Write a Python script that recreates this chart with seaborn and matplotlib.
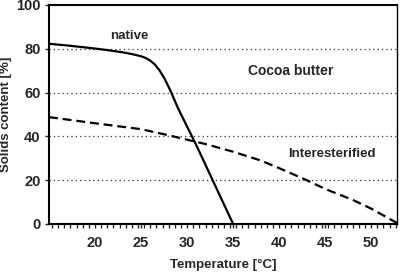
import matplotlib
matplotlib.use("Agg")
import matplotlib.pyplot as plt
from matplotlib.ticker import MultipleLocator
import seaborn as sns
import pandas as pd

native_temp = [15, 17, 19, 21, 23, 24, 25, 25.5, 26, 26.5, 27, 27.6, 28.2, 29, 30, 31, 32, 33, 34, 35]
native_solids = [82.3, 81.5, 80.6, 79.6, 78.4, 77.6, 76.6, 75.8, 74.6, 72.8, 70.2, 66, 60.8, 53, 44.5, 36, 27, 18, 9, 0]

inter_temp = [15, 20, 25, 28, 30, 32, 35, 38, 40, 43, 45, 48, 50, 53]
inter_solids = [48.8, 46, 43.3, 40.5, 38.5, 36.5, 33, 29, 25.5, 20, 16, 11, 7, 0]

x_ticks = [20, 25, 30, 35, 40, 45, 50]
y_ticks = [0, 20, 40, 60, 80, 100]

sns.set_style("white")
plt.rcParams["font.family"] = ["Liberation Sans", "DejaVu Sans"]

fig = plt.figure(figsize=(4.0, 2.73), dpi=100)
ax = fig.add_axes([0.1225, 0.1795, 0.87, 0.8022])

df_n = pd.DataFrame({"t": native_temp, "s": native_solids})
df_i = pd.DataFrame({"t": inter_temp, "s": inter_solids})

for yv in [20, 40, 60, 80]:
    ax.axhline(yv, color="#333333", lw=0.9, ls=(0, (1, 2.5)), zorder=1)

sns.lineplot(data=df_n, x="t", y="s", ax=ax, color="black", lw=1.6, zorder=3)
sns.lineplot(data=df_i, x="t", y="s", ax=ax, color="black", lw=1.6,
             zorder=3, dashes=False)
ax.lines[-1].set_linestyle((0, (4, 2.2)))

ax.set_xlim(15, 52.8)
ax.set_ylim(0, 100)
ax.set_xticks(x_ticks)
ax.set_yticks(y_ticks)
ax.xaxis.set_minor_locator(MultipleLocator(2/3))
ax.tick_params(axis="x", which="both", direction="out", length=3, width=1,
               bottom=True, labelsize=10.5, pad=6)
ax.tick_params(axis="y", which="both", direction="out", length=3, width=1,
               left=True, labelsize=10.5, pad=3)
for lab in ax.get_xticklabels() + ax.get_yticklabels():
    lab.set_fontweight("bold")

for side in ["left", "bottom", "top"]:
    ax.spines[side].set_linewidth(1.5)
    ax.spines[side].set_color("black")
ax.spines["right"].set_linewidth(1.0)
ax.spines["right"].set_color("black")

ax.set_xlabel("Temperature [°C]", fontsize=9.5, fontweight="bold", labelpad=6)
ax.set_ylabel("Solids content [%]", fontsize=9.5, fontweight="bold", labelpad=3)

ax.text(23.7, 85.7, "native", ha="center", va="center", fontsize=9.5, fontweight="bold")
ax.text(41.2, 70, "Cocoa butter", ha="center", va="center", fontsize=10, fontweight="bold")
ax.text(45.7, 31.8, "Interesterified", ha="center", va="center", fontsize=9.5, fontweight="bold")

fig.savefig("out.png", dpi=100)
